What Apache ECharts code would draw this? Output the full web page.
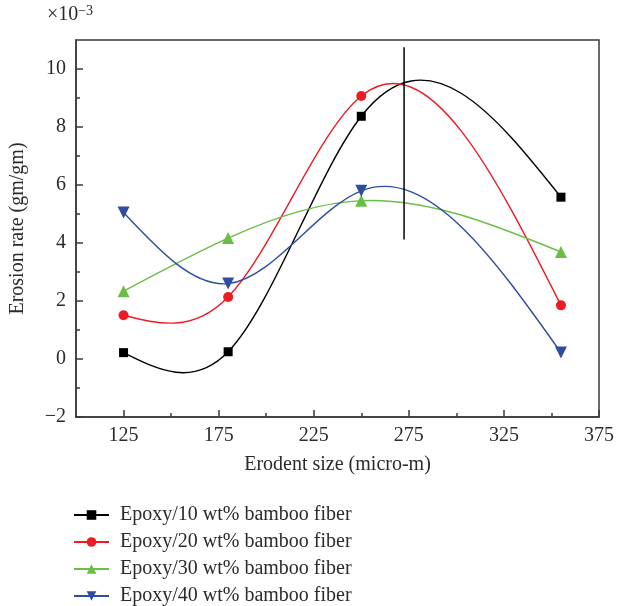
<!DOCTYPE html>
<html>
<head>
<meta charset="utf-8">
<script src="https://cdn.jsdelivr.net/npm/echarts@6/dist/echarts.min.js"></script>
<style>
  html, body { margin: 0; padding: 0; background: #fff; }
  #main { width: 617px; height: 606px; }
</style>
</head>
<body>
<div id="main"></div>
<script>
// erodent size (micro-m)
var sizes = [125, 180, 250, 355];
// erosion rate x10^-3 gm/gm
var epoxy10 = [0.22, 0.25, 8.37, 5.58];
var epoxy20 = [1.51, 2.14, 9.07, 1.85];
var epoxy30 = [2.34, 4.17, 5.46, 3.69];
var epoxy40 = [5.05, 2.60, 5.80, 0.22];
var seriesNames = [
  'Epoxy/10 wt% bamboo fiber',
  'Epoxy/20 wt% bamboo fiber',
  'Epoxy/30 wt% bamboo fiber',
  'Epoxy/40 wt% bamboo fiber'
];
// vertical marker line
var markerX = [272.5, 272.5];
var markerY = [4.12, 10.75];

var xMajor = [125, 175, 225, 275, 325, 375];
var xMinor = [150, 200, 250, 300, 350];
var yMajor = [-2, 0, 2, 4, 6, 8, 10];
var yMinor = [-1, 1, 3, 5, 7, 9];

var FONT = 'Liberation Serif';
var TXT = '#2b2b2b';
var AX = '#3a3a3a';

function pairs(xs, ys) {
  return xs.map(function (x, i) { return [x, ys[i]]; });
}

// slopes of a natural cubic spline through (xs, ys)
function splineSlopes(xs, ys) {
  var n = xs.length, h = [], i;
  for (i = 0; i < n - 1; i++) h.push(xs[i + 1] - xs[i]);
  // second derivatives M (natural: ends are 0)
  var a = [], b = [], c = [], d = [];
  for (i = 0; i < n; i++) {
    if (i === 0 || i === n - 1) { a.push(0); b.push(1); c.push(0); d.push(0); continue; }
    a.push(h[i - 1]);
    b.push(2 * (h[i - 1] + h[i]));
    c.push(h[i]);
    d.push(6 * ((ys[i + 1] - ys[i]) / h[i] - (ys[i] - ys[i - 1]) / h[i - 1]));
  }
  for (i = 1; i < n; i++) {
    var w = a[i] / b[i - 1];
    b[i] -= w * c[i - 1];
    d[i] -= w * d[i - 1];
  }
  var M = new Array(n);
  M[n - 1] = d[n - 1] / b[n - 1];
  for (i = n - 2; i >= 0; i--) M[i] = (d[i] - c[i] * M[i + 1]) / b[i];
  var m = [];
  for (i = 0; i < n - 1; i++) {
    m.push((ys[i + 1] - ys[i]) / h[i] - h[i] * (2 * M[i] + M[i + 1]) / 6);
  }
  m.push((ys[n - 1] - ys[n - 2]) / h[n - 2] + h[n - 2] * (M[n - 2] + 2 * M[n - 1]) / 6);
  return m;
}

var chart = echarts.init(document.getElementById('main'));

// spline curve drawn through the data points via the axis scales
function splineCurve(ys, color) {
  var m = splineSlopes(sizes, ys);
  return {
    type: 'custom',
    xAxisIndex: 0,
    yAxisIndex: 0,
    data: pairs(sizes, ys),
    silent: true,
    animation: false,
    z: 1,
    renderItem: function (params, api) {
      if (params.dataIndex !== 0) return;
      var p0 = api.coord([sizes[0], ys[0]]);
      var path = 'M' + p0[0] + ' ' + p0[1];
      for (var i = 0; i < sizes.length - 1; i++) {
        var h = sizes[i + 1] - sizes[i];
        var c1 = api.coord([sizes[i] + h / 3, ys[i] + h * m[i] / 3]);
        var c2 = api.coord([sizes[i + 1] - h / 3, ys[i + 1] - h * m[i + 1] / 3]);
        var p1 = api.coord([sizes[i + 1], ys[i + 1]]);
        path += ' C' + c1[0] + ' ' + c1[1] + ' ' + c2[0] + ' ' + c2[1] + ' ' + p1[0] + ' ' + p1[1];
      }
      return {
        type: 'path',
        shape: { pathData: path },
        style: { fill: 'none', stroke: color, lineWidth: 1.4 }
      };
    }
  };
}

function points(name, data, color, symbol, size, rotate) {
  return {
    name: name,
    type: 'line',
    xAxisIndex: 0,
    yAxisIndex: 0,
    data: pairs(sizes, data),
    symbol: symbol,
    symbolSize: size,
    symbolRotate: rotate || 0,
    showAllSymbol: true,
    lineStyle: { color: color, width: 1.4, opacity: 0 },
    itemStyle: { color: color },
    emphasis: { disabled: true },
    z: 3,
    animation: false
  };
}

chart.setOption({
  backgroundColor: '#fff',
  textStyle: { fontFamily: FONT },
  grid: {
    left: 73, right: 15, top: 40, bottom: 189,
    show: true, borderColor: AX, borderWidth: 1.5
  },
  legend: {
    orient: 'vertical',
    left: 73,
    top: 505,
    height: 101,
    padding: 0,
    itemWidth: 35,
    itemHeight: 12,
    itemGap: 7,
    data: seriesNames,
    lineStyle: { opacity: 1 },
    textStyle: { fontFamily: FONT, fontSize: 20, color: TXT, padding: [0, 0, 0, 6] }
  },
  xAxis: [{
    type: 'value', min: 100, max: 375,
    position: 'bottom',
    name: 'Erodent size (micro-m)',
    nameLocation: 'middle',
    nameGap: 38,
    nameTextStyle: { fontFamily: FONT, fontSize: 20, color: TXT },
    axisLine: { show: true, onZero: false, lineStyle: { color: AX, width: 1.5 } },
    axisTick: { show: true, inside: true, length: 7, customValues: xMajor, lineStyle: { color: AX, width: 1.5 } },
    axisLabel: { customValues: xMajor, margin: 9, fontFamily: FONT, fontSize: 20, color: TXT },
    splitLine: { show: false }
  }, {
    type: 'value', min: 100, max: 375,
    position: 'bottom',
    axisLine: { show: false, onZero: false },
    axisTick: { show: true, inside: true, length: 4, customValues: xMinor, lineStyle: { color: AX, width: 1.5 } },
    axisLabel: { show: false },
    splitLine: { show: false }
  }],
  yAxis: [{
    type: 'value', min: -2, max: 11,
    position: 'left',
    name: '{a|×10}{b|−3}',
    nameLocation: 'end',
    nameGap: 14,
    nameTextStyle: {
      padding: [0, 12, 0, 0],
      rich: {
        a: { fontFamily: FONT, fontSize: 20, color: TXT },
        b: { fontFamily: FONT, fontSize: 14, color: TXT, verticalAlign: 'top', padding: [0, 0, 8, 0] }
      }
    },
    axisLine: { show: true, onZero: false, lineStyle: { color: AX, width: 1.5 } },
    axisTick: { show: true, inside: true, length: 7, customValues: yMajor, lineStyle: { color: AX, width: 1.5 } },
    axisLabel: {
      customValues: yMajor, margin: 10, fontFamily: FONT, fontSize: 20, color: TXT,
      formatter: function (v) { return v < 0 ? '\u2212' + Math.abs(v) : String(v); }
    },
    splitLine: { show: false }
  }, {
    type: 'value', min: -2, max: 11,
    position: 'left',
    name: 'Erosion rate (gm/gm)',
    nameLocation: 'middle',
    nameGap: 48,
    nameTextStyle: { fontFamily: FONT, fontSize: 20, color: TXT },
    axisLine: { show: false, onZero: false },
    axisTick: { show: true, inside: true, length: 4, customValues: yMinor, lineStyle: { color: AX, width: 1.5 } },
    axisLabel: { show: false },
    splitLine: { show: false }
  }],
  series: [
    splineCurve(epoxy10, '#000000'),
    splineCurve(epoxy20, '#ed1c24'),
    splineCurve(epoxy30, '#6abd45'),
    splineCurve(epoxy40, '#2e4da0'),
    points(seriesNames[0], epoxy10, '#000000', 'rect', 9),
    points(seriesNames[1], epoxy20, '#ed1c24', 'circle', 10),
    points(seriesNames[2], epoxy30, '#6abd45', 'triangle', 12),
    points(seriesNames[3], epoxy40, '#2e4da0', 'triangle', 12, 180),
    {
      name: 'marker',
      type: 'line',
      xAxisIndex: 0,
      yAxisIndex: 0,
      data: pairs(markerX, markerY),
      symbol: 'none',
      lineStyle: { color: '#000', width: 1.5 },
      silent: true,
      animation: false
    }
  ]
});
</script>
</body>
</html>
